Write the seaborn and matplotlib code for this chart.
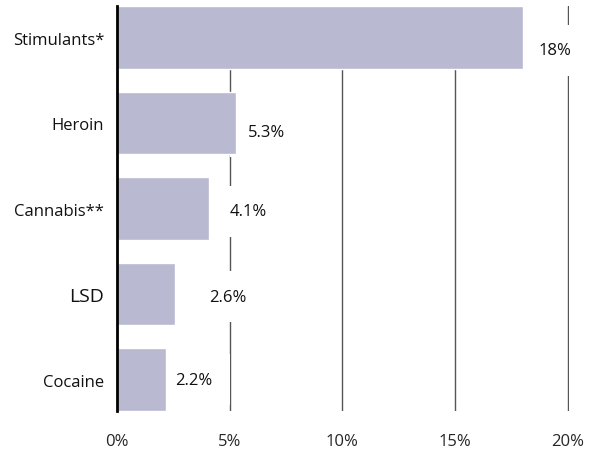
import matplotlib
matplotlib.use("Agg")
import matplotlib.pyplot as plt
import seaborn as sns
import pandas as pd

# data
drugs = ["Stimulants*", "Heroin", "Cannabis**", "LSD", "Cocaine"]
shares = [18.0, 5.3, 4.1, 2.6, 2.2]
value_labels = ["18%", "5.3%", "4.1%", "2.6%", "2.2%"]
x_ticks = [0, 5, 10, 15, 20]
x_tick_labels = ["0%", "5%", "10%", "15%", "20%"]

# label placement (layout only, not data)
label_x = [18.7, 5.8, 5.0, 4.1, 2.6]
label_dy = [0.15, 0.1, 0.03, 0.03, 0.0]
ytick_sizes = [12, 12, 12, 14, 12]

sns.set_style("white")
plt.rcParams["font.family"] = ["Open Sans", "DejaVu Sans"]

df = pd.DataFrame({"drug": drugs, "share": shares})

fig = plt.figure(figsize=(5.9, 4.6), dpi=100)
ax = fig.add_axes([0.198, 0.104, 0.766, 0.881])

# gridlines behind bars
for x in x_ticks[1:]:
    ax.axvline(x, color="#555555", lw=1.0, zorder=0)

sns.barplot(data=df, x="share", y="drug", orient="h", color="#b9b9d1",
            saturation=1, width=0.73, ax=ax, zorder=2)

for i, (lx, txt) in enumerate(zip(label_x, value_labels)):
    ax.text(lx, i + label_dy[i], txt, ha="left", va="center", fontsize=12,
            color="#111111", zorder=1,
            bbox=dict(boxstyle="square,pad=1.05", fc="white", ec="none"))

ax.set_xlim(0, 20.05)
ax.set_ylim(4.37, -0.37)
ax.set_xticks(x_ticks)
ax.set_xticklabels(x_tick_labels, fontsize=12)
ax.tick_params(axis="x", length=0, pad=16)
ax.tick_params(axis="y", length=0, pad=9)
for lab, sz in zip(ax.get_yticklabels(), ytick_sizes):
    lab.set_fontsize(sz)
    lab.set_color("#111111")
ax.set_xlabel("")
ax.set_ylabel("")

for side in ["top", "right", "bottom"]:
    ax.spines[side].set_visible(False)
ax.spines["left"].set_color("black")
ax.spines["left"].set_linewidth(2)
ax.spines["left"].set_zorder(4)

fig.savefig("out.png", dpi=100)
